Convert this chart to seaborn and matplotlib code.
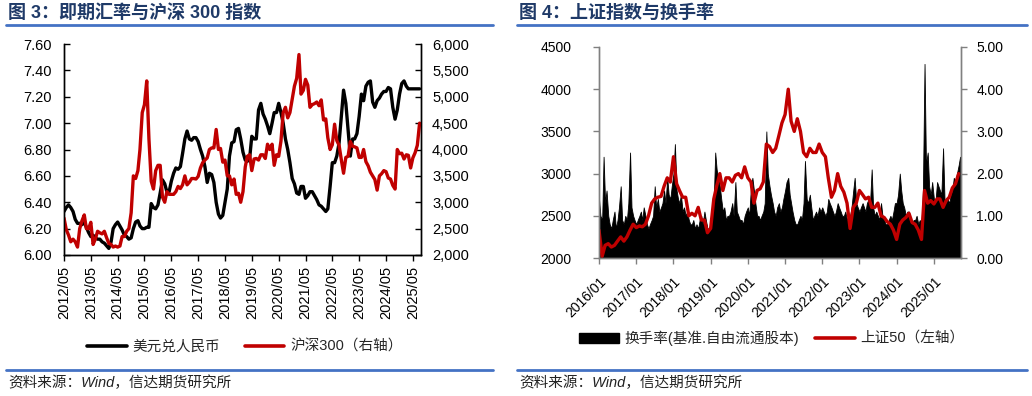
import numpy as np
import pandas as pd
import matplotlib
matplotlib.use('Agg')
import matplotlib.pyplot as plt
from matplotlib.lines import Line2D
from matplotlib.patches import Patch
import seaborn as sns

# ---------------- data ----------------
fx_start = '2012-05-01'   # monthly, 2012/05 - 2025/08
usdcny = [
    6.33, 6.36, 6.38, 6.36, 6.33, 6.27, 6.24, 6.24,
    6.23, 6.25, 6.21, 6.17, 6.14, 6.15, 6.13, 6.12, 6.12, 6.10, 6.09, 6.07,
    6.05, 6.10, 6.20, 6.23, 6.25, 6.22, 6.19, 6.15, 6.14, 6.12, 6.13, 6.20,
    6.25, 6.26, 6.22, 6.20, 6.20, 6.21, 6.21, 6.39, 6.36, 6.35, 6.38, 6.47,
    6.57, 6.54, 6.48, 6.48, 6.56, 6.62, 6.66, 6.65, 6.67, 6.77, 6.88, 6.94,
    6.88, 6.87, 6.89, 6.89, 6.86, 6.80, 6.75, 6.67, 6.55, 6.62, 6.61, 6.55,
    6.40, 6.31, 6.28, 6.30, 6.40, 6.50, 6.75, 6.85, 6.86, 6.95, 6.96, 6.88,
    6.78, 6.72, 6.71, 6.73, 6.90, 6.88, 6.88, 7.10, 7.15, 7.07, 7.03, 6.98,
    6.92, 7.00, 7.08, 7.08, 7.15, 7.08, 7.00, 6.88, 6.80, 6.70, 6.58, 6.54,
    6.47, 6.46, 6.52, 6.52, 6.43, 6.45, 6.48, 6.48, 6.45, 6.42, 6.38, 6.37,
    6.35, 6.33, 6.35, 6.52, 6.70, 6.70, 6.75, 6.85, 7.05, 7.25, 7.15, 6.95,
    6.75, 6.88, 6.88, 6.92, 7.05, 7.22, 7.17, 7.28, 7.31, 7.32, 7.16, 7.12,
    7.17, 7.19, 7.22, 7.24, 7.24, 7.27, 7.26, 7.12, 7.03, 7.10, 7.22, 7.30,
    7.32, 7.28, 7.26, 7.26, 7.26, 7.26, 7.26, 7.26,
]
csi300 = [
    2700, 2480, 2380, 2250, 2300, 2250, 2150, 2500,
    2650, 2760, 2500, 2500, 2620, 2200, 2300, 2450, 2420, 2400, 2450, 2330,
    2220, 2200, 2150, 2170, 2150, 2170, 2350, 2350, 2450, 2500, 2800, 3500,
    3450, 3600, 4000, 4700, 4850, 5300, 4200, 3400, 3250, 3600, 3700, 3700,
    3100, 3000, 3200, 3150, 3150, 3150, 3200, 3300, 3260, 3330, 3500, 3330,
    3380, 3450, 3450, 3440, 3490, 3650, 3750, 3800, 3840, 4000, 4030, 4030,
    4380, 4000, 4020, 3760, 3800, 3500, 3500, 3330, 3440, 3150, 3170, 3000,
    3200, 3670, 3870, 3900, 3600, 3820, 3830, 3800, 3900, 3900, 3830, 4100,
    4000, 4100, 3700, 3900, 3870, 4160, 4700, 4800, 4600, 4700, 4950, 5200,
    5350, 5800, 5050, 5120, 5330, 5220, 4800, 4850, 4870, 4900, 4830, 4940,
    4560, 4580, 4220, 4000, 4090, 4480, 4170, 4080, 3800, 3550, 3850, 3870,
    4150, 4060, 4050, 4030, 3850, 3850, 4000, 3770, 3690, 3570, 3500, 3430,
    3230, 3500, 3540, 3600, 3580, 3460, 3440, 3320, 3250, 4000, 3920, 3930,
    3820, 3900, 3890, 3650, 3840, 3940, 4080, 4500,
]
fx_ticks = ['2012/05', '2013/05', '2014/05', '2015/05', '2016/05', '2017/05', '2018/05',
            '2019/05', '2020/05', '2021/05', '2022/05', '2023/05', '2024/05', '2025/05']

sse_start = '2016-01-01'  # monthly, 2016/01 - 2025/09
sse50 = [
    2330, 2020, 2150, 2170, 2130, 2150, 2200, 2250, 2200, 2250, 2330, 2400,
    2360, 2380, 2370, 2400, 2500, 2650, 2700, 2720, 2730, 2850, 2950, 2900,
    3200, 2880, 2800, 2720, 2720, 2500, 2530, 2500, 2600, 2450, 2450, 2300,
    2350, 2700, 2850, 3000, 2800, 2950, 2950, 2900, 2980, 3000, 2950, 3080,
    2950, 2900, 2650, 2800, 2820, 2900, 3350, 3320, 3250, 3300, 3450, 3600,
    3700, 4000, 3620, 3500, 3650, 3500, 3250, 3200, 3300, 3250, 3250, 3350,
    3250, 3200, 2950, 2720, 2800, 3000, 2850, 2780, 2650, 2350, 2600, 2650,
    2800, 2750, 2700, 2720, 2600, 2600, 2650, 2500, 2480, 2430, 2400, 2330,
    2220, 2400, 2450, 2480, 2530, 2420, 2400, 2330, 2220, 2800, 2650, 2680,
    2640, 2700, 2700, 2600, 2680, 2720, 2830, 2880, 3000,
]
# turnover rate, semi-monthly (1st / 15th), 2016/01 - 2025/09
turnover = [
    1.4, 1.0, 0.9, 2.4, 1.3, 1.6, 1.0, 0.8, 0.7, 0.9, 1.1, 0.7,
    0.9, 1.2, 1.7, 0.9, 0.8, 1.0, 0.9, 1.3, 2.5, 1.2, 1.0, 0.9,
    0.8, 0.9, 1.0, 1.1, 0.9, 1.2, 1.0, 0.8, 0.7, 0.8, 0.9, 1.0,
    1.7, 1.2, 1.4, 1.1, 1.2, 1.3, 1.6, 1.3, 1.9, 1.5, 1.4, 1.7,
    2.0, 2.7, 1.6, 1.4, 1.3, 1.5, 1.1, 1.2, 1.0, 1.1, 0.9, 0.8,
    0.8, 0.9, 0.7, 0.8, 0.7, 0.9, 1.0, 0.8, 1.1, 0.9, 0.7, 0.7,
    0.8, 1.0, 1.4, 2.5, 2.1, 1.9, 1.7, 1.4, 1.1, 1.2, 0.9, 1.0,
    1.0, 1.1, 1.3, 1.0, 1.8, 1.1, 1.0, 0.9, 0.9, 0.8, 1.0, 1.1,
    1.2, 1.0, 1.7, 1.9, 1.6, 1.3, 1.0, 1.0, 0.9, 1.0, 1.1, 1.3,
    3.0, 2.0, 1.7, 1.5, 1.3, 1.1, 1.0, 1.2, 1.3, 1.1, 1.2, 1.4,
    1.6, 1.8, 1.9, 1.5, 1.3, 1.1, 0.9, 0.8, 0.8, 0.9, 1.0, 0.9,
    1.3, 2.3, 1.4, 1.3, 1.5, 1.2, 0.9, 1.0, 1.1, 1.0, 1.2, 1.1,
    1.2, 1.1, 1.0, 1.1, 1.4, 1.3, 1.2, 1.1, 1.0, 1.1, 1.3, 1.2,
    1.1, 1.0, 1.0, 1.1, 0.9, 1.0, 1.0, 1.2, 1.6, 1.9, 1.3, 1.2,
    1.1, 1.2, 1.3, 1.2, 1.1, 1.3, 1.4, 1.3, 2.1, 1.2, 1.0, 1.1,
    1.0, 0.9, 1.3, 1.0, 0.9, 0.8, 0.8, 0.9, 1.0, 0.9, 1.1, 1.3,
    1.3, 1.5, 2.0, 1.6, 1.3, 1.2, 1.0, 1.1, 1.1, 0.9, 0.8, 0.9,
    0.9, 1.0, 0.8, 0.9, 0.8, 1.6, 4.6, 2.2, 2.5, 1.7, 1.5, 1.8,
    1.4, 1.3, 1.8, 1.7, 1.6, 1.5, 2.6, 1.4, 1.3, 1.4, 1.3, 1.5,
    1.6, 1.9, 1.8, 2.0, 2.2, 2.4,
]
sse_ticks = ['2016/01', '2017/01', '2018/01', '2019/01', '2020/01',
             '2021/01', '2022/01', '2023/01', '2024/01', '2025/01']

# ---------------- style ----------------
sns.set_theme(style='white')
plt.rcParams['font.family'] = ['Liberation Sans', 'Noto Sans CJK SC']
plt.rcParams['axes.unicode_minus'] = False

RED = '#C00000'
NAVY = '#1F3A68'
BLUE = '#4472C4'
W, H = 1032, 396

fig = plt.figure(figsize=(W / 100, H / 100), dpi=100)

def fbox(l, t, r, b):
    return [l / W, 1 - b / H, (r - l) / W, (b - t) / H]

# ---------------- left panel ----------------
df_fx = pd.DataFrame({
    'date': pd.date_range(fx_start, periods=len(usdcny), freq='MS'),
    'usd': usdcny, 'csi': csi300})

ax1 = fig.add_axes(fbox(64, 44, 421, 255))
ax1r = ax1.twinx()
sns.lineplot(data=df_fx, x='date', y='usd', ax=ax1, color='black', lw=2.4, legend=False)
sns.lineplot(data=df_fx, x='date', y='csi', ax=ax1r, color=RED, lw=2.4, legend=False)

ax1.set_xlim(pd.Timestamp('2012-05-01'), pd.Timestamp('2025-08-20'))
ax1.set_ylim(6.0, 7.6)
ax1r.set_ylim(2000, 6000)
yt = np.round(np.arange(6.0, 7.61, 0.2), 2)
ax1.set_yticks(yt)
ax1.set_yticklabels([f'{v:.2f}' for v in yt])
yt2 = np.arange(2000, 6001, 500)
ax1r.set_yticks(yt2)
ax1r.set_yticklabels([f'{v:,}' for v in yt2])
ax1.set_xticks(pd.to_datetime(fx_ticks, format='%Y/%m'))
ax1.set_xticklabels(fx_ticks, rotation=90)
for a in (ax1, ax1r):
    a.set_xlabel('')
    a.set_ylabel('')
    a.spines['top'].set_visible(False)
    for s in a.spines.values():
        s.set_color('black')
        s.set_linewidth(1.0)
ax1.tick_params(axis='y', direction='in', length=4, width=1, pad=9, labelsize=10.5, colors='black')
ax1r.tick_params(axis='y', direction='in', length=4, width=1, pad=8, labelsize=10.5, colors='black')
ax1.tick_params(axis='x', direction='out', length=4, width=1, pad=4, labelsize=10.5, colors='black', bottom=True)
ax1.grid(False); ax1r.grid(False)

fig.legend([Line2D([], [], color='black', lw=2.6), Line2D([], [], color=RED, lw=2.6)],
           ['美元兑人民币', '沪深300（右轴）'], loc='center',
           bbox_to_anchor=(245 / W, 1 - 347 / H), ncol=2, frameon=False,
           fontsize=10.5, handlelength=2.7, handletextpad=0.4, columnspacing=1.7)

# ---------------- right panel ----------------
df_sse = pd.DataFrame({'date': pd.date_range(sse_start, periods=len(sse50), freq='MS'),
                       'sse': sse50})
df_to = pd.DataFrame({'date': pd.date_range(sse_start, periods=len(turnover), freq='SMS'),
                      'to': turnover})

ax2 = fig.add_axes(fbox(599, 47, 961, 258))
ax2r = ax2.twinx()
ax2r.fill_between(df_to['date'], 0, df_to['to'], color='black', lw=0.6, edgecolor='black')
sns.lineplot(data=df_sse, x='date', y='sse', ax=ax2, color=RED, lw=2.4, legend=False)
ax2.set_zorder(ax2r.get_zorder() + 1)
ax2.patch.set_visible(False)

ax2.set_xlim(pd.Timestamp('2016-01-01'), pd.Timestamp('2025-09-24'))
ax2.set_ylim(2000, 4500)
ax2r.set_ylim(0, 5)
yl = np.arange(2000, 4501, 500)
ax2.set_yticks(yl)
ax2.set_yticklabels([f'{v}' for v in yl])
yr = np.arange(0, 5.01, 1.0)
ax2r.set_yticks(yr)
ax2r.set_yticklabels([f'{v:.2f}' for v in yr])
ax2.set_xticks(pd.to_datetime(sse_ticks, format='%Y/%m'))
ax2.set_xticklabels(sse_ticks, rotation=45, ha='right', rotation_mode='anchor')
for a in (ax2, ax2r):
    a.set_xlabel('')
    a.set_ylabel('')
    a.spines['top'].set_visible(False)
    for s in a.spines.values():
        s.set_color('#808080')
        s.set_linewidth(1.0)
ax2.tick_params(axis='y', direction='out', length=4, width=1, pad=16, labelsize=10, color='#808080', labelcolor='black')
ax2r.tick_params(axis='y', direction='out', length=4, width=1, pad=7, labelsize=10, color='#808080', labelcolor='black')
ax2.tick_params(axis='x', direction='out', length=4, width=1, pad=8, labelsize=10, color='#808080', labelcolor='black', bottom=True)
ax2.grid(False); ax2r.grid(False)

fig.legend([Patch(facecolor='black', edgecolor='black'), Line2D([], [], color=RED, lw=2.6)],
           ['换手率(基准.自由流通股本)', '上证50（左轴）'], loc='center',
           bbox_to_anchor=(772 / W, 1 - 338 / H), ncol=2, frameon=False,
           fontsize=10.5, handlelength=2.7, handletextpad=0.4, columnspacing=1.1)

# ---------------- titles, rules, sources ----------------
fig.text(8 / W, 1 - 13 / H, '图 3：即期汇率与沪深 300 指数', fontsize=13, fontweight='bold',
         color=NAVY, va='center', ha='left')
fig.text(519 / W, 1 - 13 / H, '图 4：上证指数与换手率', fontsize=13, fontweight='bold',
         color=NAVY, va='center', ha='left')
for x0, x1 in ((6, 493), (517, 1027)):
    for y in (25, 370):
        fig.add_artist(Line2D([x0 / W, x1 / W], [1 - y / H, 1 - y / H],
                              transform=fig.transFigure, color=BLUE, lw=2))
fig.text(8 / W, 1 - 383 / H, '资料来源：Wind，信达期货研究所', fontsize=10.5,
         style='italic', color='#222222', va='center', ha='left')
fig.text(519 / W, 1 - 383 / H, '资料来源：Wind，信达期货研究所', fontsize=10.5,
         style='italic', color='#222222', va='center', ha='left')

fig.savefig('out.png', dpi=100)
